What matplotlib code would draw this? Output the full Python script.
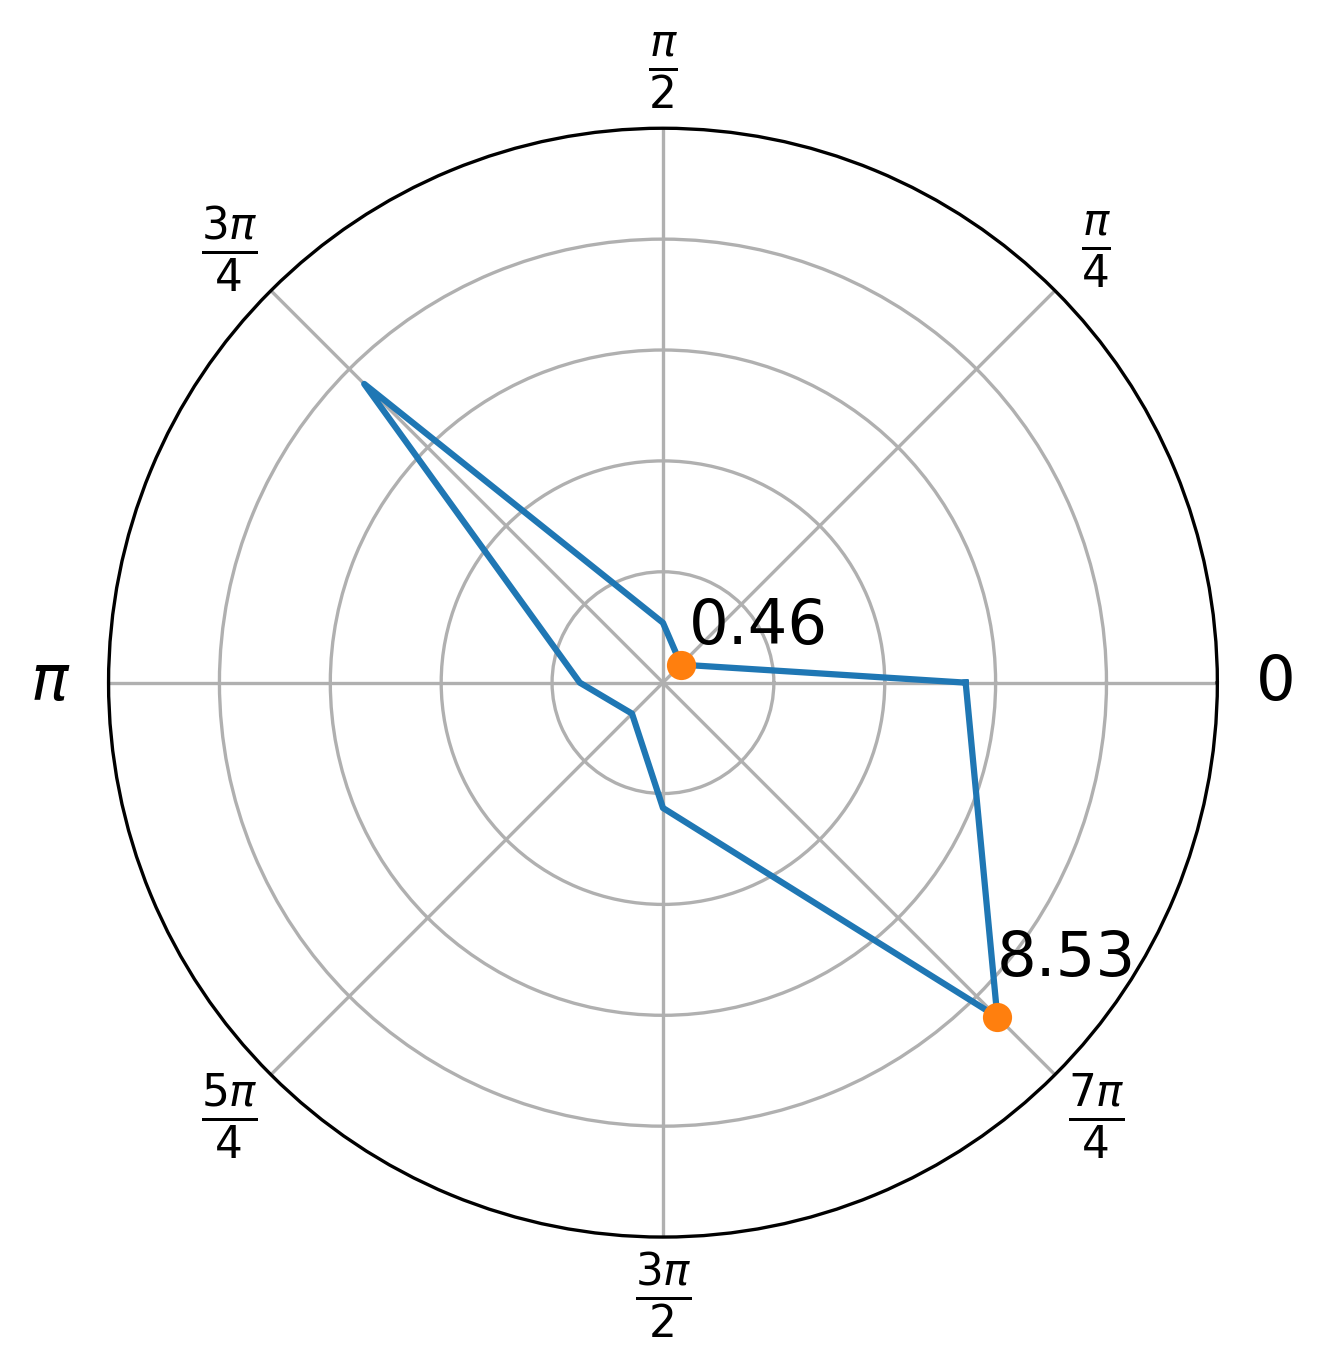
import matplotlib
matplotlib.use("Agg")
import matplotlib.pyplot as plt
import numpy as np

# angulos y radios
theta = np.arange(8) * np.pi / 4
r = [5.46, 0.46, 1.08, 7.62, 1.50, 0.79, 2.26, 8.53]

theta_labels = ['0', r'$\frac{\pi}{4}$', r'$\frac{\pi}{2}$', r'$\frac{3\pi}{4}$',
                r'$\pi$', r'$\frac{5\pi}{4}$', r'$\frac{3\pi}{2}$', r'$\frac{7\pi}{4}$']
r_ticks = [2, 4, 6, 8]

# cerrar el poligono
th_c = np.append(theta, theta[0])
r_c = np.append(r, r[0])

fig = plt.figure(figsize=(6.4, 4.8))
ax = fig.add_subplot(111, projection='polar')
ax.plot(th_c, r_c, color='C0')

imin = int(np.argmin(r))
imax = int(np.argmax(r))
ax.plot([theta[imin], theta[imax]], [r[imin], r[imax]], 'o', color='C1')

ax.annotate('%.2f' % r[imin], (theta[imin], r[imin]), xytext=(1.8, 5),
            textcoords='offset points', fontsize=15)
ax.annotate('%.2f' % r[imax], (theta[imax], r[imax]), xytext=(-0.2, 10),
            textcoords='offset points', fontsize=15)

ax.set_ylim(0, 10)
ax.set_rticks(r_ticks)
ax.set_yticklabels([])
ax.set_xticks(theta)
ax.set_xticklabels(theta_labels, fontsize=15)
ax.grid(True, color='#b0b0b0')

plt.savefig('out.png', dpi=300, bbox_inches='tight')
